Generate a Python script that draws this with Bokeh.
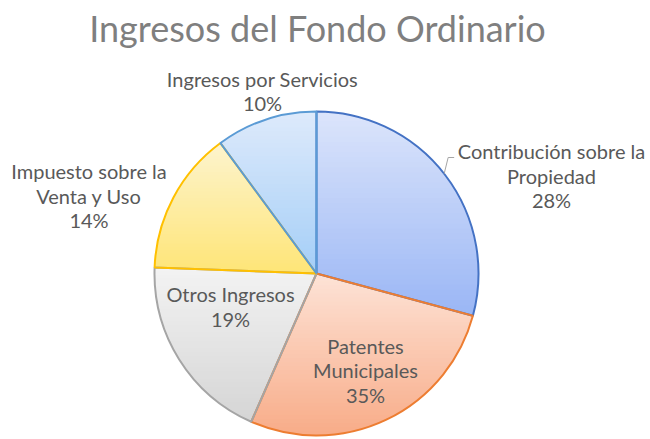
import math
from bokeh.plotting import figure
from bokeh.models import Range1d, ColumnDataSource
from bokeh.core.properties import value
from bokeh.embed import file_html
from bokeh.resources import INLINE

# ---- data ----
title = "Ingresos del Fondo Ordinario"
categories = ["Contribución sobre la\nPropiedad", "Patentes\nMunicipales", "Otros Ingresos",
              "Impuesto sobre la\nVenta y Uso", "Ingresos por Servicios"]
shares = [29.2, 27.4, 19.0, 14.3, 10.1]          # slice sizes as drawn
pct_labels = ["28%", "35%", "19%", "14%", "10%"]  # percentages as printed

# ---- styles ----
outline_colors = ["#4472C4", "#ED7D31", "#A5A5A5", "#FFC000", "#5B9BD5"]
grad_top = ["#DCE5FB", "#FDE3D7", "#F3F3F3", "#FDF4CE", "#DEEAFB"]
grad_bot = ["#9AB6F5", "#F8AC88", "#D5D5D5", "#FEE577", "#A4CEF7"]

W, H = 650, 439
def Y(sy):  # picture pixel row -> data y
    return H - sy

CX, CY, R = 316, Y(273), 162

p = figure(width=W, height=H, x_range=Range1d(0, W), y_range=Range1d(0, H),
           output_backend="svg", toolbar_location=None, min_border=0)
p.axis.visible = False
p.grid.visible = False
p.outline_line_color = None
p.background_fill_color = "white"
p.border_fill_color = "white"

total = sum(shares)
starts, ends = [], []
acc = 0.0
for s in shares:
    starts.append(math.pi / 2 - 2 * math.pi * acc / total)
    acc += s
    ends.append(math.pi / 2 - 2 * math.pi * acc / total)

def hex2rgb(h):
    h = h.lstrip("#")
    return tuple(int(h[i:i + 2], 16) for i in (0, 2, 4))

def mix(a, b, t):
    ra, rb = hex2rgb(a), hex2rgb(b)
    return "#%02x%02x%02x" % tuple(round(ra[i] + (rb[i] - ra[i]) * t) for i in range(3))

def clip(poly, ylim, keep_above):
    out = []
    n = len(poly)
    for i in range(n):
        cur, prev = poly[i], poly[i - 1]
        cin = cur[1] >= ylim if keep_above else cur[1] <= ylim
        pin = prev[1] >= ylim if keep_above else prev[1] <= ylim
        if cin:
            if not pin:
                t = (ylim - prev[1]) / (cur[1] - prev[1])
                out.append((prev[0] + t * (cur[0] - prev[0]), ylim))
            out.append(cur)
        elif pin:
            t = (ylim - prev[1]) / (cur[1] - prev[1])
            out.append((prev[0] + t * (cur[0] - prev[0]), ylim))
    return out

# base slices (solid)
src = ColumnDataSource(dict(start=starts, end=ends,
                            color=[mix(a, b, 0.5) for a, b in zip(grad_top, grad_bot)],
                            line=outline_colors))
p.wedge(x=CX, y=CY, radius=R, start_angle="start", end_angle="end", direction="clock",
        fill_color="color", line_color=None, source=src)

# gradient bands (top light -> bottom darker, per slice)
xs, ys, cs = [], [], []
NB = 40
for i in range(len(shares)):
    n = 120
    poly = [(CX, CY)]
    for k in range(n + 1):
        a = starts[i] + (ends[i] - starts[i]) * k / n
        poly.append((CX + R * math.cos(a), CY + R * math.sin(a)))
    ytop = max(pt[1] for pt in poly)
    ybot = min(pt[1] for pt in poly)
    for b in range(NB):
        y1 = ytop - (ytop - ybot) * b / NB
        y0 = ytop - (ytop - ybot) * (b + 1) / NB
        band = clip(clip(poly, y0 - 0.4, True), y1 + 0.4, False)
        if len(band) < 3:
            continue
        xs.append([q[0] for q in band])
        ys.append([q[1] for q in band])
        cs.append(mix(grad_top[i], grad_bot[i], (b + 0.5) / NB))
p.patches(xs=xs, ys=ys, fill_color=cs, line_color=None)

# outlines
p.wedge(x=CX, y=CY, radius=R, start_angle="start", end_angle="end", direction="clock",
        fill_color=None, line_color="line", line_width=2, source=src)

# title
p.text(x=[317], y=[Y(27)], text=[title], text_font=value("Lato"), text_font_size="36px",
       text_color="#7F7F7F", text_align="center", text_baseline="alphabetic")

# data labels (layout: x centre, first line row in picture pixels)
label_pos = [(551, 150.5), (365, 345), (230, 293.5), (88.5, 170.5), (262, 78)]
LINE = 24.5
lx, ly, lt = [], [], []
for (x0, b0), cat, pct in zip(label_pos, categories, pct_labels):
    lines = cat.split("\n") + [pct]
    for j, t in enumerate(lines):
        lx.append(x0)
        ly.append(Y(b0 + j * LINE))
        lt.append(t)
p.text(x=lx, y=ly, text=lt, text_font=value("Lato"), text_font_size="20px",
       text_color="#595959", text_align="center", text_baseline="alphabetic")

# leader line for the first label
ang = math.radians(38)
sx, sy = CX + R * math.cos(ang), CY + R * math.sin(ang)
p.line(x=[sx, sx + 4, sx + 10], y=[sy, Y(157), Y(157)], line_color="#A5A5A5", line_width=1)

open("out.html", "w").write(file_html(p, INLINE))
